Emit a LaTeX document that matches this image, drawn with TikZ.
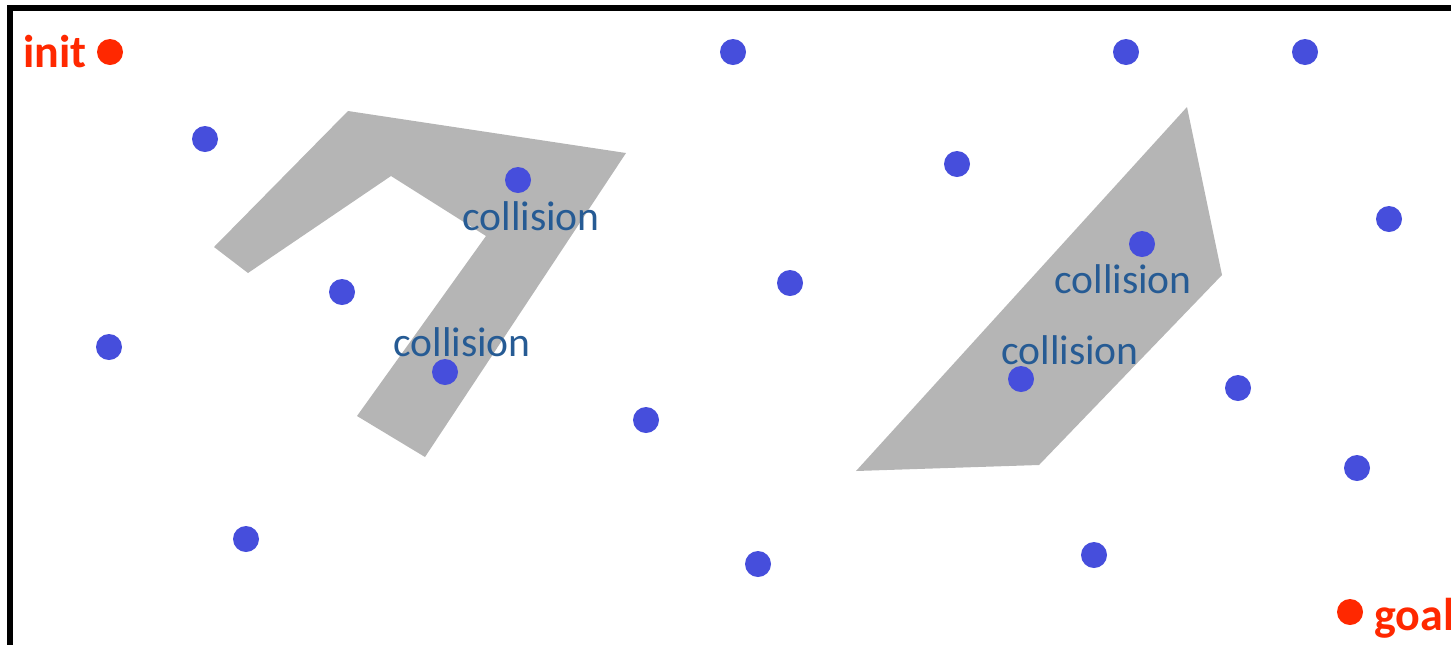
\documentclass[tikz,border=0pt]{standalone}
\usepackage{fontspec}
\setmainfont{Carlito}
\usepackage{tikz}

\definecolor{samplecol}{RGB}{70,78,220}
\definecolor{endcol}{RGB}{255,40,0}
\definecolor{obstcol}{RGB}{181,181,181}
\definecolor{labelcol}{RGB}{38,91,148}

\tikzset{
  sample/.style={circle, fill=samplecol, inner sep=0pt, minimum size=13pt},
  endpoint/.style={circle, fill=endcol, inner sep=0pt, minimum size=13pt},
  endlabel/.style={text=endcol, font=\fontsize{23}{26}\selectfont\bfseries, inner sep=0pt, anchor=base west},
  colllabel/.style={text=labelcol, font=\fontsize{20.8}{24}\selectfont, inner sep=0pt, anchor=base}
}

\begin{document}
\begin{tikzpicture}[x=0.5pt, y=-0.5pt]
  \clip (0,0) rectangle (1451,644);
  % Obstacles
  \fill[obstcol] (348,111) -- (626,153) -- (425,457) -- (357,416) -- (486,236)
    -- (391,176) -- (248,273) -- (214,247) -- cycle;
  \fill[obstcol] (1187,107) -- (1222,275) -- (1039,465) -- (856,471) -- cycle;

  % Workspace frame
  \draw[line width=2.6pt] (10,8) rectangle (1700,900);

  % Start and goal
  \node[endpoint] (init) at (110,52) {};
  \node[endlabel] (initlabel) at (23,67) {init};
  \node[endpoint] (goal) at (1350,612) {};
  \node[endlabel] (goallabel) at (1374,630) {goal};

  % Samples
  \node[sample] (s1) at (733,52) {};
  \node[sample] (s2) at (1126,52) {};
  \node[sample] (s3) at (1305,52) {};
  \node[sample] (s4) at (205,139) {};
  \node[sample] (s5) at (518,180) {};
  \node[sample] (s6) at (957,164) {};
  \node[sample] (s7) at (1389,219) {};
  \node[sample] (s8) at (1142,244) {};
  \node[sample] (s9) at (342,292) {};
  \node[sample] (s10) at (790,283) {};
  \node[sample] (s11) at (109,347) {};
  \node[sample] (s12) at (445,372) {};
  \node[sample] (s13) at (1021,379) {};
  \node[sample] (s14) at (1238,388) {};
  \node[sample] (s15) at (646,420) {};
  \node[sample] (s16) at (1357,468) {};
  \node[sample] (s17) at (246,539) {};
  \node[sample] (s18) at (758,564) {};
  \node[sample] (s19) at (1094,555) {};

  % Collision labels
  \node[colllabel] (c1) at (531,230) {collision};
  \node[colllabel] (c2) at (462,356) {collision};
  \node[colllabel] (c3) at (1123,293) {collision};
  \node[colllabel] (c4) at (1070,364) {collision};
\end{tikzpicture}
\end{document}
